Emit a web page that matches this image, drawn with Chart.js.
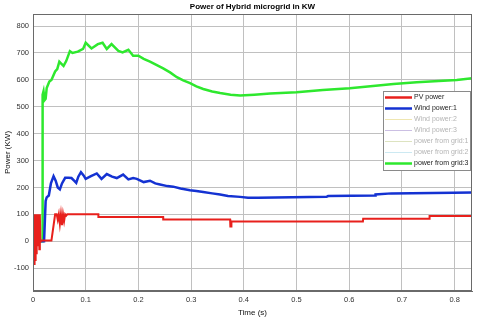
<!DOCTYPE html>
<html>
<head>
<meta charset="utf-8">
<script src="https://cdn.jsdelivr.net/npm/chart.js@4.4.0/dist/chart.umd.min.js"></script>
<style>
  html, body { margin: 0; padding: 0; background: #fff; }
</style>
</head>
<body>
<canvas id="chart" width="480" height="321"></canvas>
<script>
// Power of Hybrid microgrid in KW

const xTicks = [0, 0.1, 0.2, 0.3, 0.4, 0.5, 0.6, 0.7, 0.8];
const yTicks = [-100, 0, 100, 200, 300, 400, 500, 600, 700, 800];

// PV power (red)
const pvTime = [0, 0.001, 0.002, 0.003, 0.004, 0.005, 0.006, 0.007, 0.008, 0.009, 0.010, 0.011, 0.012, 0.013, 0.014, 0.015,
  0.035, 0.042, 0.045, 0.047, 0.049, 0.051, 0.053, 0.055, 0.057, 0.059, 0.061, 0.063, 0.065,
  0.124, 0.1241, 0.247, 0.2471, 0.374, 0.3745, 0.376, 0.3765, 0.626, 0.6265, 0.752, 0.7525, 0.84];
const pvPower = [0, 100, -85, 100, -70, 100, -45, 100, -15, 100, 0, 100, -30, 100, 0, 3,
  3, 100, 100, 80, 100, 65, 100, 60, 100, 75, 100, 95, 100,
  100, 90, 90, 81, 81, 55, 55, 73, 73, 84, 84, 94, 94];

// Wind power:1 (blue)
const windTime = [0, 0.021, 0.024, 0.026, 0.030, 0.034, 0.039, 0.043, 0.047, 0.051, 0.055, 0.061, 0.067, 0.073, 0.078,
  0.082, 0.086, 0.091, 0.096, 0.100, 0.110, 0.121, 0.130, 0.140, 0.150, 0.159, 0.171, 0.181, 0.190, 0.197,
  0.210, 0.222, 0.232, 0.241, 0.255, 0.266, 0.280, 0.298, 0.310, 0.323, 0.340, 0.355, 0.370, 0.393, 0.408,
  0.427, 0.557, 0.560, 0.649, 0.650, 0.680, 0.797, 0.84];
const windPower = [0, 0, 150, 163, 170, 215, 242, 225, 200, 193, 215, 236, 236, 235, 225,
  217, 240, 257, 245, 232, 242, 252, 232, 250, 240, 235, 248, 230, 235, 232,
  220, 225, 215, 211, 205, 203, 196, 190, 187, 183, 178, 174, 168, 165, 162,
  162, 165, 168, 170, 174, 178, 180, 182];

// power from grid:3 (green)
const gridTime = [0, 0.0175, 0.018, 0.0185, 0.020, 0.022, 0.024, 0.026, 0.031, 0.035, 0.042, 0.046, 0.050, 0.054, 0.058,
  0.063, 0.070, 0.075, 0.085, 0.095, 0.100, 0.111, 0.123, 0.132, 0.140, 0.149, 0.162, 0.170, 0.181, 0.190,
  0.200, 0.210, 0.222, 0.235, 0.247, 0.260, 0.273, 0.285, 0.298, 0.310, 0.323, 0.340, 0.355, 0.375, 0.393,
  0.420, 0.450, 0.500, 0.550, 0.601, 0.650, 0.684, 0.728, 0.770, 0.804, 0.84];
const gridPower = [0, 0, 450, 545, 558, 525, 530, 570, 594, 600, 631, 640, 668, 660, 652,
  670, 707, 700, 705, 715, 738, 717, 733, 738, 715, 733, 708, 702, 712, 690,
  690, 678, 668, 655, 643, 628, 610, 598, 588, 576, 566, 557, 551, 545, 542,
  545, 549, 554, 562, 569, 578, 585, 591, 596, 600, 608];

function toPoints(xs, ys) {
    return xs.map((x, i) => ({ x: x, y: ys[i] }));
}

// Title above the axes box
const titlePlugin = {
    id: 'titlePlugin',
    afterDraw(chart) {
        const ctx = chart.ctx;
        const area = chart.chartArea;
        ctx.save();
        ctx.font = 'bold 8px "Liberation Sans", Arial, sans-serif';
        ctx.fillStyle = '#000';
        ctx.textAlign = 'center';
        ctx.textBaseline = 'middle';
        ctx.fillText('Power of Hybrid microgrid in KW', (area.left + area.right) / 2, 7);
        ctx.restore();
    }
};

// Box around the axes (top and right edges)
const boxPlugin = {
    id: 'boxPlugin',
    afterDraw(chart) {
        const ctx = chart.ctx;
        const a = chart.chartArea;
        ctx.save();
        ctx.strokeStyle = '#6a6a6a';
        ctx.lineWidth = 1;
        ctx.strokeRect(a.left + 0.5, a.top + 0.5, a.right - a.left - 1, a.bottom - a.top - 1);
        ctx.restore();
    }
};

// Legend inside the plot, top right
const legendPlugin = {
    id: 'legendPlugin',
    afterDraw(chart) {
        const ctx = chart.ctx;
        const a = chart.chartArea;
        const sets = chart.data.datasets;
        const w = 87, rowH = 11;
        const h = sets.length * rowH + 2;
        const x0 = a.right - w - 2;
        const y0 = a.top + 77;
        ctx.save();
        ctx.fillStyle = '#fff';
        ctx.fillRect(x0, y0, w, h);
        ctx.strokeStyle = '#8a8a8a';
        ctx.lineWidth = 1;
        ctx.strokeRect(x0 + 0.5, y0 + 0.5, w, h);
        ctx.font = '7px "Liberation Sans", Arial, sans-serif';
        ctx.textBaseline = 'middle';
        sets.forEach((ds, i) => {
            const y = y0 + 6.5 + i * rowH;
            const faint = ds.data.length === 0;
            ctx.strokeStyle = ds.borderColor;
            ctx.lineWidth = faint ? 1 : 2.5;
            ctx.beginPath();
            ctx.moveTo(x0 + 2, y);
            ctx.lineTo(x0 + 29, y);
            ctx.stroke();
            ctx.fillStyle = faint ? '#b4b4b4' : '#222';
            ctx.fillText(ds.label, x0 + 31, y);
        });
        ctx.restore();
    }
};

new Chart(document.getElementById('chart'), {
    type: 'line',
    data: {
        datasets: [
            { label: 'PV power', data: toPoints(pvTime, pvPower), borderColor: '#e8201c', borderWidth: 2 },
            { label: 'Wind power:1', data: toPoints(windTime, windPower), borderColor: '#1432d2', borderWidth: 2.5 },
            { label: 'Wind power:2', data: [], borderColor: '#efe6b0' },
            { label: 'Wind power:3', data: [], borderColor: '#cbbfe3' },
            { label: 'power from grid:1', data: [], borderColor: '#dde3c0' },
            { label: 'power from grid:2', data: [], borderColor: '#cce9f2' },
            { label: 'power from grid:3', data: toPoints(gridTime, gridPower), borderColor: '#2ee82e', borderWidth: 2.5 }
        ]
    },
    options: {
        responsive: false,
        animation: false,
        layout: { padding: { left: 0, right: 8, top: 14, bottom: 0 } },
        elements: { point: { radius: 0 }, line: { tension: 0 } },
        plugins: { legend: { display: false }, title: { display: false }, tooltip: { enabled: false } },
        scales: {
            x: {
                type: 'linear',
                min: 0,
                max: 0.833,
                afterBuildTicks: axis => { axis.ticks = xTicks.map(v => ({ value: v })); },
                afterFit: axis => { axis.height = 30; },
                ticks: { color: '#333', font: { size: 7.5, family: '"Liberation Sans", Arial' }, padding: 4, maxRotation: 0,
                    callback: v => String(v) },
                grid: { color: '#c0c0c0', drawTicks: false },
                border: { display: true, color: '#6a6a6a' },
                title: { display: true, text: 'Time (s)', color: '#111', font: { size: 8, family: '"Liberation Sans", Arial' },
                    padding: { top: 0, bottom: 3 } }
            },
            y: {
                min: -185,
                max: 845,
                afterBuildTicks: axis => { axis.ticks = yTicks.map(v => ({ value: v })); },
                afterFit: axis => { axis.width = 33; },
                ticks: { color: '#333', font: { size: 7.5, family: '"Liberation Sans", Arial' }, padding: 4 },
                grid: { color: '#c0c0c0', drawTicks: false },
                border: { display: true, color: '#6a6a6a' },
                title: { display: true, text: 'Power (KW)', color: '#111', font: { size: 8, family: '"Liberation Sans", Arial' },
                    padding: { top: 3, bottom: 0 } }
            }
        }
    },
    plugins: [titlePlugin, boxPlugin, legendPlugin]
});
</script>
</body>
</html>
